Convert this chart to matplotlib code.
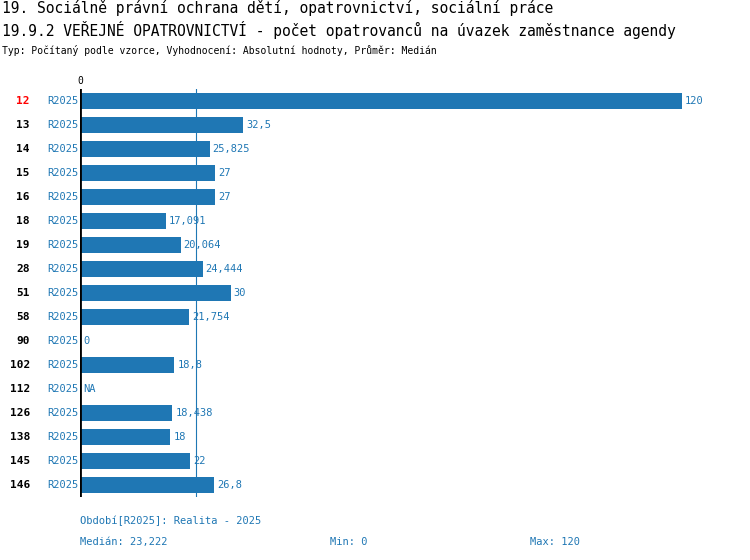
import matplotlib.pyplot as plt
import numpy as np

ids = ['12', '13', '14', '15', '16', '18', '19', '28', '51', '58', '90', '102', '112', '126', '138', '145', '146']
values = [120, 32.5, 25.825, 27, 27, 17.091, 20.064, 24.444, 30, 21.754, 0, 18.8, np.nan, 18.438, 18, 22, 26.8]
labels = ['120', '32,5', '25,825', '27', '27', '17,091', '20,064', '24,444', '30', '21,754', '0', '18,8', 'NA',
          '18,438', '18', '22', '26,8']
median = 23.222

blue = '#1f77b4'
mono = 'DejaVu Sans Mono'

fig = plt.figure(figsize=(7.5, 5.6), dpi=100)
W, H = 750, 560
ax = fig.add_axes([80 / W, (H - 497) / H, 602 / W, 408 / H])
ax.set_xlim(0, 120)
ax.set_ylim(len(ids) - 0.5, -0.5)
ax.axis('off')

y = np.arange(len(ids))
vals = np.nan_to_num(values)
ax.barh(y, vals, height=0.67, color=blue)
ax.axvline(median, color=blue, lw=0.8)
ax.axvline(0, color='black', lw=2)
for i in y:
    ax.text(vals[i] + 0.6, i, labels[i], va='center', ha='left', color=blue, fontsize=7.5, family=mono)
    ax.text(-0.3, i, 'R2025', va='center', ha='right', color=blue, fontsize=7.5, family=mono)
    ax.text(-10, i, ids[i], va='center', ha='right', color='red' if i == 0 else 'black',
            fontsize=8, family=mono, fontweight='bold')
ax.text(0, -0.85, '0', ha='center', va='center', fontsize=7, family=mono)

fig.text(2 / W, 1 - 8 / H, '19. Sociálně právní ochrana dětí, opatrovnictví, sociální práce',
         fontsize=10.5, family=mono, va='center')
fig.text(2 / W, 1 - 30 / H, '19.9.2 VEŘEJNÉ OPATROVNICTVÍ - počet opatrovanců na úvazek zaměstnance agendy',
         fontsize=10.5, family=mono, va='center')
fig.text(2 / W, 1 - 50 / H, 'Typ: Počítaný podle vzorce, Vyhodnocení: Absolutní hodnoty, Průměr: Medián',
         fontsize=7, family=mono, va='center')

fig.text(80 / W, 1 - 521 / H, 'Období[R2025]: Realita - 2025', fontsize=7.5, family=mono, va='center', color=blue)
fig.text(80 / W, 1 - 542 / H, 'Medián: 23,222', fontsize=7.5, family=mono, va='center', color=blue)
fig.text(330 / W, 1 - 542 / H, 'Min: 0', fontsize=7.5, family=mono, va='center', color=blue)
fig.text(530 / W, 1 - 542 / H, 'Max: 120', fontsize=7.5, family=mono, va='center', color=blue)

fig.savefig('out.png', dpi=100)
